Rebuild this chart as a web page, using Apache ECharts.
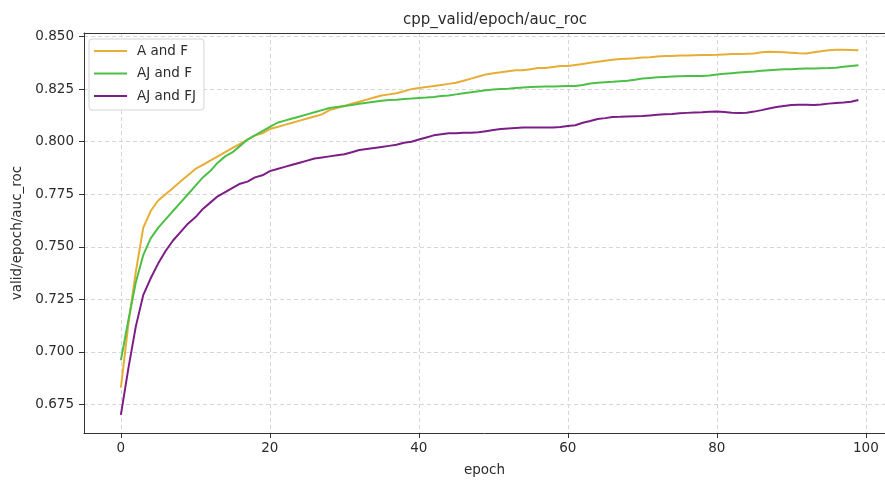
<!DOCTYPE html>
<html>
<head>
<meta charset="utf-8">
<title>cpp_valid/epoch/auc_roc</title>
<script src="https://cdn.jsdelivr.net/npm/echarts@6/dist/echarts.min.js"></script>
<style>
	html, body { margin: 0; padding: 0; background: #fff; }
	#main { width: 885px; height: 484px; }
</style>
</head>
<body>
<div id="main"></div>
<script>
var seriesNames = ['A and F', 'AJ and F', 'AJ and FJ'];
var xTicks = [0, 20, 40, 60, 80, 100];
var yTicks = [0.675, 0.700, 0.725, 0.750, 0.775, 0.800, 0.825, 0.850];

// A and F
var aAndF = [
	0.683, 0.713, 0.738, 0.759, 0.767, 0.772, 0.775, 0.778, 0.781, 0.784,
	0.787, 0.789, 0.791, 0.793, 0.795, 0.797, 0.799, 0.801, 0.803, 0.804,
	0.806, 0.807, 0.808, 0.809, 0.810, 0.811, 0.812, 0.813, 0.815, 0.816,
	0.817, 0.818, 0.819, 0.820, 0.821, 0.822, 0.8225, 0.823, 0.824, 0.825,
	0.8255, 0.826, 0.8265, 0.827, 0.8275, 0.828, 0.829, 0.830, 0.831, 0.832,
	0.8325, 0.833, 0.8335, 0.834, 0.834, 0.8345, 0.835, 0.835, 0.8355, 0.836,
	0.836, 0.8365, 0.837, 0.8375, 0.838, 0.8385, 0.839, 0.8393, 0.8395, 0.8397,
	0.840, 0.8402, 0.8405, 0.8407, 0.8408, 0.841, 0.841, 0.8411, 0.8412, 0.8412,
	0.8413, 0.8415, 0.8417, 0.8417, 0.8418, 0.842, 0.8425, 0.8428, 0.8427, 0.8425,
	0.8423, 0.8421, 0.842, 0.8425, 0.843, 0.8435, 0.8437, 0.8437, 0.8436, 0.8435
];
// AJ and F
var ajAndF = [
	0.696, 0.715, 0.733, 0.746, 0.754, 0.759, 0.763, 0.767, 0.771, 0.775,
	0.779, 0.783, 0.786, 0.790, 0.793, 0.795, 0.798, 0.801, 0.803, 0.805,
	0.807, 0.809, 0.810, 0.811, 0.812, 0.813, 0.814, 0.815, 0.816, 0.8165,
	0.817, 0.8175, 0.818, 0.8185, 0.819, 0.8195, 0.8198, 0.820, 0.8203, 0.8205,
	0.8208, 0.821, 0.8213, 0.8217, 0.822, 0.8225, 0.823, 0.8235, 0.824, 0.8245,
	0.8248, 0.825, 0.8252, 0.8255, 0.8258, 0.826, 0.8261, 0.8262, 0.8263, 0.8264,
	0.8265, 0.8265, 0.827, 0.8277, 0.828, 0.8283, 0.8285, 0.8288, 0.829, 0.8295,
	0.830, 0.8303, 0.8306, 0.8308, 0.831, 0.8311, 0.8312, 0.8312, 0.8312, 0.8315,
	0.832, 0.8323, 0.8326, 0.8329, 0.8332, 0.8334, 0.8337, 0.834, 0.8342, 0.8344,
	0.8345, 0.8347, 0.8348, 0.8348, 0.8349, 0.835, 0.8352, 0.8356, 0.836, 0.8364
];
// AJ and FJ
var ajAndFJ = [
	0.670, 0.692, 0.712, 0.727, 0.735, 0.742, 0.748, 0.753, 0.757, 0.761,
	0.764, 0.768, 0.771, 0.774, 0.776, 0.778, 0.780, 0.781, 0.783, 0.784,
	0.786, 0.787, 0.788, 0.789, 0.790, 0.791, 0.792, 0.7925, 0.793, 0.7935,
	0.794, 0.795, 0.796, 0.7965, 0.797, 0.7975, 0.798, 0.7985, 0.7995, 0.800,
	0.801, 0.802, 0.803, 0.8035, 0.804, 0.804, 0.8042, 0.8043, 0.8045, 0.805,
	0.8055, 0.806, 0.8063, 0.8065, 0.8067, 0.8068, 0.8067, 0.8067, 0.8067, 0.807,
	0.8075, 0.8078, 0.809, 0.8098, 0.8108, 0.8112, 0.8117, 0.8118, 0.812, 0.8121,
	0.8122, 0.8125, 0.8128, 0.813, 0.8132, 0.8135, 0.8137, 0.8139, 0.814, 0.8142,
	0.8143, 0.8141, 0.8138, 0.8136, 0.8138, 0.8143, 0.815, 0.8158, 0.8165, 0.817,
	0.8174, 0.8176, 0.8176, 0.8175, 0.8177, 0.8181, 0.8184, 0.8186, 0.819, 0.8198
];

var colors = ['#e8ad35', '#4cc046', '#7c1e86'];
var font = 'DejaVu Sans';
var textColor = '#2b2b2b';
// the figure is cut off on the right, so the x range ends past 100
var xMin = -4.95, xMax = 102.57;

function pairs(arr) {
	var out = [];
	for (var i = 0; i < arr.length; i++) out.push([i, arr[i]]);
	return out;
}

function makeSeries(name, data, color) {
	return {
		name: name,
		type: 'line',
		data: pairs(data),
		showSymbol: false,
		symbol: 'none',
		lineStyle: { color: color, width: 2 },
		itemStyle: { color: color },
		emphasis: { disabled: true },
		animation: false
	};
}

var gridLine = { show: true, lineStyle: { color: '#d6d6d6', width: 1, type: [4, 3] } };

var myChart = echarts.init(document.getElementById('main'));
var option = {
	backgroundColor: '#fff',
	color: colors,
	title: {
		text: 'cpp_valid/epoch/auc_roc',
		left: 490,
		top: 8,
		textAlign: 'center',
		textStyle: { fontFamily: font, fontSize: 15, fontWeight: 'normal', color: textColor }
	},
	legend: {
		orient: 'vertical',
		left: 89,
		top: 39,
		padding: [4, 8, 6, 5],
		itemGap: 6.5,
		itemWidth: 33,
		itemHeight: 2,
		icon: 'rect',
		backgroundColor: '#fff',
		borderColor: '#d4d4d4',
		borderWidth: 1,
		borderRadius: 3,
		data: seriesNames,
		textStyle: { fontFamily: font, fontSize: 13.5, color: textColor, lineHeight: 16, padding: [0, 0, 0, 5] }
	},
	grid: {
		left: 84,
		top: 33,
		right: 0,
		height: 400,
		containLabel: false
	},
	xAxis: [{
		type: 'value',
		min: xMin,
		max: xMax,
		name: 'epoch',
		nameLocation: 'middle',
		nameGap: 30,
		nameTextStyle: { fontFamily: font, fontSize: 13.5, color: textColor },
		axisLine: { show: true, onZero: false, lineStyle: { color: '#333', width: 1 } },
		axisTick: { show: true, length: 5, lineStyle: { color: '#333' }, customValues: xTicks },
		axisLabel: { fontFamily: font, fontSize: 13.5, color: textColor, margin: 8, customValues: xTicks },
		splitLine: gridLine
	}, {
		// top spine only
		type: 'value',
		position: 'top',
		min: xMin,
		max: xMax,
		axisLine: { show: true, onZero: false, lineStyle: { color: '#333', width: 1 } },
		axisTick: { show: false },
		axisLabel: { show: false },
		splitLine: { show: false }
	}],
	yAxis: {
		type: 'value',
		min: 0.6614,
		max: 0.8517,
		name: 'valid/epoch/auc_roc',
		nameLocation: 'middle',
		nameRotate: 90,
		nameGap: 60,
		nameTextStyle: { fontFamily: font, fontSize: 13.5, color: textColor },
		axisLine: { show: true, onZero: false, lineStyle: { color: '#333', width: 1 } },
		axisTick: { show: true, length: 5, lineStyle: { color: '#333' }, customValues: yTicks },
		axisLabel: {
			fontFamily: font, fontSize: 13.5, color: textColor, margin: 10,
			customValues: yTicks,
			formatter: function (v) { return v.toFixed(3); }
		},
		splitLine: gridLine
	},
	series: [
		makeSeries(seriesNames[0], aAndF, colors[0]),
		makeSeries(seriesNames[1], ajAndF, colors[1]),
		makeSeries(seriesNames[2], ajAndFJ, colors[2])
	]
};
myChart.setOption(option);
</script>
</body>
</html>
